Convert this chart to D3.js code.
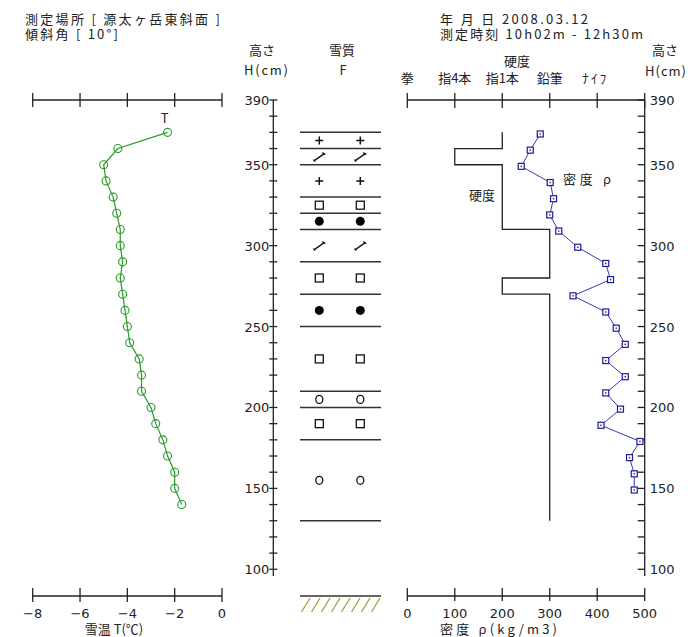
<!DOCTYPE html>
<html><head><meta charset="utf-8">
<script src="https://cdn.jsdelivr.net/npm/d3@7"></script>
<style>
body{margin:0;background:#fff;}
svg text{font-family:"Noto Sans CJK JP","DejaVu Sans",sans-serif;fill:#222;}
.num{font-family:"DejaVu Sans",sans-serif;font-size:13px;}
</style></head>
<body>
<svg id="c" width="693" height="637"></svg>
<script>
// ---------- data ----------
const tempHeights = [370,360,350,340,330,320,310,300,290,280,270,260,250,240,230,220,210,200,190,180,170,160,150,140];
const tempValues  = [-2.3,-4.4,-5.0,-4.9,-4.6,-4.45,-4.3,-4.3,-4.2,-4.3,-4.2,-4.1,-4.0,-3.9,-3.5,-3.4,-3.4,-3.0,-2.8,-2.5,-2.3,-2.0,-2.0,-1.7];
const densHeights = [369,359,349,339,329,319,309,299,289,279,269,259,249,239,229,219,209,199,189,179,169,159,149];
const densValues  = [280,259,240,301,308,300,319,359,418,428,349,418,440,459,418,459,418,449,408,490,468,478,478];
const layerBounds = [370,360,350,330,320,310,290,270,250,210,200,180,130];
const grainPrimary   = ['+','/','+','sq','fc','/','sq','fc','sq','oc','sq','oc'];
const grainSecondary = ['+','/','+','sq','fc','/','sq','fc','sq','oc','sq','oc'];
const hardTop    = [370,360,350,310,280,270];
const hardBottom = [360,350,310,280,270,130];
const hardIndex  = [2,1,2,3,2,3];
const hardLabels = ['拳','指4本','指1本','鉛筆','ﾅｲﾌ'];
const tempTicks = [-8,-6,-4,-2,0];
const densTicks = [0,100,200,300,400,500];
const heightLabelTicks = [390,350,300,250,200,150,100];
const heightMinorTicks = d3.range(100,391,10);

// ---------- layout ----------
const svg = d3.select('#c');
const yH = d3.scaleLinear().domain([100,390]).range([569.3,100]);
const xT = d3.scaleLinear().domain([-8,0]).range([32.7,222]);
const xD = d3.scaleLinear().domain([0,500]).range([407.3,644.7]);
const topY = 100, botY = 596, axisBottomY = 576;
const midAxisX = 273.3, colL = 300, colR = 381;
const grainX = [319.3, 360.3];
const ink = '#222';

// header texts
const hdr = svg.append('g').attr('font-size',13);
function ht(x,y,t,len,anchor){
  const e = hdr.append('text').attr('x',x).attr('y',y).text(t);
  if(len) e.attr('textLength',len).attr('lengthAdjust','spacing');
  if(anchor) e.attr('text-anchor',anchor);
  return e;
}
ht(25,24,'測定場所 [ 源太ヶ岳東斜面 ]',195);
ht(25,39,'傾斜角 [ 10°]',93);
ht(440,24,'年 月 日   2008.03.12',148);
ht(440,39,'測定時刻  10h02m - 12h30m',203);
ht(262,55,'高さ',null,'middle');
ht(244,75,'H(cm)',44);
ht(342,55,'雪質',null,'middle');
ht(343,75,'F',null,'middle');
ht(517,66,'硬度',null,'middle');
ht(665,55,'高さ',null,'middle');
ht(645,76,'H(cm)',41);
hardLabels.forEach((t,i)=>{
  const e = hdr.append('text').attr('x',xD(i*100)).attr('y',83).attr('text-anchor','middle').text(t);
  if(t==='ﾅｲﾌ') e.attr('textLength',24).attr('lengthAdjust','spacing').attr('x',xD(i*100)-3);
});

// ---------- temperature panel ----------
function hAxis(g, scale, ticks, y, up, down){
  g.append('line').attr('x1',scale(ticks[0])).attr('x2',scale(ticks[ticks.length-1]))
    .attr('y1',y).attr('y2',y).attr('stroke',ink).attr('stroke-width',1.3);
  g.selectAll(null).data(ticks).enter().append('line')
    .attr('x1',d=>scale(d)).attr('x2',d=>scale(d)).attr('y1',y-up).attr('y2',y+down)
    .attr('stroke',ink).attr('stroke-width',1.3);
}
const gT = svg.append('g');
hAxis(gT, xT, tempTicks, topY, 7, 7);
hAxis(gT, xT, tempTicks, botY, 8, 6);
gT.selectAll(null).data(tempTicks).enter().append('text').attr('class','num')
  .attr('x',d=>xT(d)).attr('y',618).attr('text-anchor','middle').text(d=>d===0?'0':'−'+Math.abs(d));
gT.append('text').attr('x',114).attr('y',634).attr('text-anchor','middle').attr('font-size',13).text('雪温 T(℃)');
const tPts = tempHeights.map((h,i)=>[xT(tempValues[i]), yH(h)]);
gT.append('path').attr('d',d3.line()(tPts)).attr('fill','none').attr('stroke','#2a9a2a').attr('stroke-width',1.2);
gT.selectAll(null).data(tPts).enter().append('circle')
  .attr('cx',d=>d[0]).attr('cy',d=>d[1]).attr('r',4).attr('fill','none').attr('stroke','#2a9a2a').attr('stroke-width',1.1);
gT.append('text').attr('x',tPts[0][0]-3).attr('y',tPts[0][1]-9).attr('text-anchor','middle').attr('font-size',13).attr('font-family','DejaVu Sans').text('T');

// ---------- middle height axis ----------
const gM = svg.append('g');
gM.append('line').attr('x1',midAxisX).attr('x2',midAxisX).attr('y1',yH(390)).attr('y2',axisBottomY).attr('stroke',ink).attr('stroke-width',1.3);
gM.selectAll(null).data(heightMinorTicks).enter().append('line')
  .attr('x1',midAxisX-4).attr('x2',midAxisX+4).attr('y1',d=>yH(d)).attr('y2',d=>yH(d)).attr('stroke',ink).attr('stroke-width',1.3);
gM.selectAll(null).data(heightLabelTicks).enter().append('text').attr('class','num')
  .attr('x',midAxisX-4).attr('y',d=>yH(d)+5).attr('text-anchor','end').text(d=>d);

// layer lines
gM.selectAll(null).data(layerBounds).enter().append('line')
  .attr('x1',colL).attr('x2',colR).attr('y1',d=>yH(d)).attr('y2',d=>yH(d)).attr('stroke','#333').attr('stroke-width',1.5);
// ground
gM.append('line').attr('x1',colL).attr('x2',colR).attr('y1',botY).attr('y2',botY).attr('stroke','#333').attr('stroke-width',1.5);
const hatch = d3.range(0,8);
gM.selectAll(null).data(hatch).enter().append('line')
  .attr('x1',d=>colL+1.5+d*10).attr('x2',d=>colL+10+d*10).attr('y1',botY+16).attr('y2',botY+2)
  .attr('stroke','#a8a040').attr('stroke-width',1.3);

function drawGrain(g, type, x, y){
  if(type==='+'){
    g.append('path').attr('d',`M${x-4},${y}H${x+4}M${x},${y-4}V${y+4}`).attr('stroke','#111').attr('stroke-width',1.5);
  } else if(type==='/'){
    g.append('path').attr('d',`M${x-5},${y+4}L${x+5},${y-3}M${x+3},${y-4}L${x+6},${y-2}M${x-6},${y+3}L${x-4},${y+5}`)
      .attr('stroke','#111').attr('stroke-width',1.3).attr('fill','none');
  } else if(type==='sq'){
    g.append('rect').attr('x',x-4).attr('y',y-4).attr('width',8).attr('height',8).attr('fill','#fff').attr('stroke','#111').attr('stroke-width',1.3);
  } else if(type==='fc'){
    g.append('circle').attr('cx',x).attr('cy',y).attr('r',4.5).attr('fill','#000');
  } else if(type==='oc'){
    g.append('ellipse').attr('cx',x).attr('cy',y).attr('rx',3.5).attr('ry',4).attr('fill','none').attr('stroke','#111').attr('stroke-width',1.3);
  }
}
for(let i=0;i<grainPrimary.length;i++){
  const mid = yH((layerBounds[i]+layerBounds[i+1])/2);
  drawGrain(gM, grainPrimary[i], grainX[0], mid);
  drawGrain(gM, grainSecondary[i], grainX[1], mid);
}

// ---------- right panel ----------
const gR = svg.append('g');
hAxis(gR, xD, densTicks, topY, 7, 8);
hAxis(gR, xD, densTicks, botY, 8, 5);
gR.selectAll(null).data(densTicks).enter().append('text').attr('class','num')
  .attr('x',d=>xD(d)).attr('y',618).attr('text-anchor','middle').text(d=>d);
gR.append('text').attr('x',440).attr('y',634).attr('font-size',13).attr('textLength',117).attr('lengthAdjust','spacing').text('密度  ρ(kg/m3)');
const rAxX = xD(500);
gR.append('line').attr('x1',rAxX).attr('x2',rAxX).attr('y1',topY).attr('y2',axisBottomY).attr('stroke',ink).attr('stroke-width',1.3);
gR.selectAll(null).data(heightMinorTicks).enter().append('line')
  .attr('x1',rAxX-7).attr('x2',rAxX).attr('y1',d=>yH(d)).attr('y2',d=>yH(d)).attr('stroke',ink).attr('stroke-width',1.3);
gR.selectAll(null).data(heightLabelTicks).enter().append('text').attr('class','num')
  .attr('x',rAxX+5).attr('y',d=>yH(d)+5).text(d=>d);

// hardness step profile
const hp = [];
hardTop.forEach((t,i)=>{ hp.push([xD(hardIndex[i]*100), yH(t)]); hp.push([xD(hardIndex[i]*100), yH(hardBottom[i])]); });
gR.append('path').attr('d',d3.line()(hp)).attr('fill','none').attr('stroke','#222').attr('stroke-width',1.3);
gR.append('text').attr('x',482).attr('y',200).attr('text-anchor','middle').attr('font-size',13).text('硬度');
gR.append('text').attr('x',563).attr('y',184).attr('font-size',13).attr('textLength',48).attr('lengthAdjust','spacing').text('密度 ρ');

// density
const dPts = densHeights.map((h,i)=>[xD(densValues[i]), yH(h)]);
gR.append('path').attr('d',d3.line()(dPts)).attr('fill','none').attr('stroke','#3a3ab0').attr('stroke-width',1);
gR.selectAll(null).data(dPts).enter().append('rect')
  .attr('x',d=>d[0]-3).attr('y',d=>d[1]-3).attr('width',6).attr('height',6)
  .attr('fill','#fff').attr('stroke','#1c1c94').attr('stroke-width',1.2);
gR.selectAll(null).data(dPts).enter().append('rect')
  .attr('x',d=>d[0]-0.7).attr('y',d=>d[1]-0.7).attr('width',1.4).attr('height',1.4).attr('fill','#1c1c94');
</script>
</body></html>
